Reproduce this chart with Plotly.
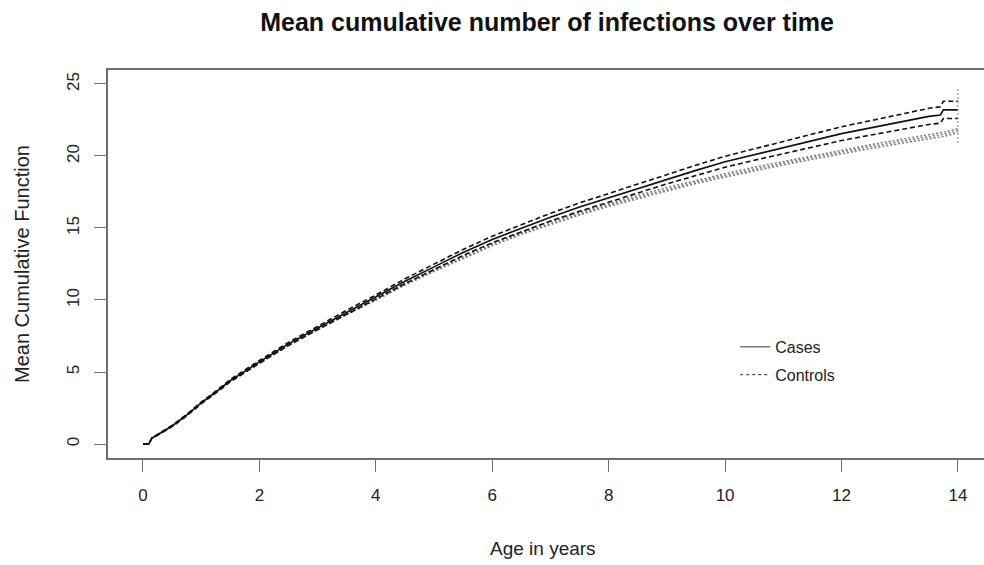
import plotly.graph_objects as go

# ---- data ----
ages = [0, 0.1, 0.15, 0.3, 0.5, 0.75, 1, 1.25, 1.5, 2, 2.5, 3, 3.5, 4, 4.5, 5, 5.5, 6, 6.5, 7,
        7.5, 8, 8.5, 9, 9.5, 10, 10.5, 11, 11.5, 12, 12.5, 13, 13.5, 13.7, 13.75, 14]

cases_mean = [0, 0, 0.4, 0.75, 1.25, 2.0, 2.85, 3.6, 4.4, 5.7, 6.95, 8.05, 9.15, 10.2, 11.3, 12.3,
              13.3, 14.2, 15.0, 15.75, 16.45, 17.1, 17.75, 18.4, 19.0, 19.6, 20.1, 20.6, 21.1, 21.55,
              21.95, 22.35, 22.75, 22.85, 23.2, 23.2]
cases_upper = [0, 0, 0.42, 0.78, 1.29, 2.05, 2.91, 3.67, 4.48, 5.8, 7.06, 8.17, 9.29, 10.35, 11.47,
               12.49, 13.51, 14.43, 15.25, 16.02, 16.74, 17.4, 18.07, 18.74, 19.36, 19.98, 20.5,
               21.03, 21.55, 22.03, 22.45, 22.88, 23.31, 23.42, 23.8, 23.8]
cases_lower = [0, 0, 0.38, 0.72, 1.21, 1.95, 2.79, 3.53, 4.32, 5.6, 6.84, 7.93, 9.01, 10.05, 11.13,
               12.11, 13.09, 13.97, 14.75, 15.48, 16.16, 16.8, 17.43, 18.06, 18.64, 19.22, 19.7,
               20.17, 20.65, 21.07, 21.45, 21.82, 22.19, 22.28, 22.6, 22.6]

controls_mean = [0, 0, 0.4, 0.75, 1.25, 2.0, 2.85, 3.6, 4.38, 5.65, 6.9, 8.0, 9.05, 10.05, 11.1,
                 12.05, 12.95, 13.85, 14.65, 15.35, 16.0, 16.6, 17.15, 17.7, 18.2, 18.65, 19.1,
                 19.5, 19.9, 20.3, 20.65, 21.0, 21.35, 21.45, 21.5, 21.75]
controls_upper = [0, 0, 0.41, 0.77, 1.27, 2.03, 2.88, 3.64, 4.42, 5.7, 6.95, 8.06, 9.11, 10.12,
                  11.17, 12.13, 13.03, 13.94, 14.74, 15.45, 16.1, 16.7, 17.26, 17.81, 18.31, 18.77,
                  19.22, 19.62, 20.03, 20.43, 20.78, 21.14, 21.49, 21.59, 21.65, 21.9]
controls_lower = [0, 0, 0.39, 0.73, 1.23, 1.97, 2.82, 3.56, 4.34, 5.6, 6.85, 7.94, 8.99, 9.98,
                  11.03, 11.97, 12.87, 13.76, 14.56, 15.25, 15.9, 16.5, 17.04, 17.59, 18.09, 18.53,
                  18.98, 19.38, 19.77, 20.17, 20.52, 20.86, 21.21, 21.31, 21.35, 21.6]

end_x = [14, 14]
end_y = [20.9, 24.65]

x_ticks = [0, 2, 4, 6, 8, 10, 12, 14]
y_ticks = [0, 5, 10, 15, 20, 25]

title_text = "Mean cumulative number of infections over time"
x_title = "Age in years"
y_title = "Mean Cumulative Function"
legend_names = ["Cases", "Controls"]

FONT = "Liberation Sans, Arial, Helvetica, sans-serif"
GRAY = "#7a7a7a"

fig = go.Figure()

# controls (gray dotted)
for ys in (controls_lower, controls_upper, controls_mean):
    fig.add_trace(go.Scatter(x=ages, y=ys, mode="lines", showlegend=False, hoverinfo="skip",
                             line=dict(color=GRAY, width=1.5, dash="2px,2px")))
# cases CI (black dashed)
for ys in (cases_lower, cases_upper):
    fig.add_trace(go.Scatter(x=ages, y=ys, mode="lines", showlegend=False, hoverinfo="skip",
                             line=dict(color="#111111", width=1.6, dash="5px,3px")))
# cases mean (black solid)
fig.add_trace(go.Scatter(x=ages, y=cases_mean, mode="lines", showlegend=False, hoverinfo="skip",
                         line=dict(color="#111111", width=1.6)))
# end drop line
fig.add_trace(go.Scatter(x=end_x, y=end_y, mode="lines", showlegend=False, hoverinfo="skip",
                         line=dict(color=GRAY, width=1, dash="2px,2px")))

# legend entries
fig.add_trace(go.Scatter(x=[None], y=[None], mode="lines", name=legend_names[0],
                         legendgroup="a", line=dict(color="#777777", width=1.5)))
fig.add_trace(go.Scatter(x=[None], y=[None], mode="lines", name=legend_names[1],
                         legendgroup="b", line=dict(color="#222222", width=1, dash="3px,3px")))

W, H = 984, 565
L, R, T, B = 108, 0, 70, 107

fig.update_layout(
    width=W, height=H,
    margin=dict(l=L, r=R, t=T, b=B, autoexpand=False),
    paper_bgcolor="white", plot_bgcolor="white",
    font=dict(family=FONT, color="#222222", size=16),
    title=dict(text="<b>" + title_text + "</b>", x=0.556, xanchor="center",
               y=1 - 22 / H, yanchor="middle", font=dict(size=25, color="#111111")),
    showlegend=True,
    legend=dict(x=0.716, y=0.33, xanchor="left", yanchor="top", bgcolor="rgba(0,0,0,0)",
                font=dict(size=16, color="#222222"), tracegroupgap=4, itemwidth=30),
    xaxis=dict(range=[-0.601, 14.448], tickvals=x_ticks, ticktext=[str(v) for v in x_ticks],
               showgrid=False, zeroline=False, showline=True, linecolor="#6e6e6e", linewidth=1.5,
               mirror=True, ticks="outside", ticklen=12, tickcolor="#6e6e6e", tickwidth=1.2,
               tickfont=dict(size=17), ticklabelstandoff=9),
    yaxis=dict(range=[-0.972, 25.97], tickvals=y_ticks, ticktext=[str(v) for v in y_ticks],
               showgrid=False, zeroline=False, showline=True, linecolor="#6e6e6e", linewidth=1.5,
               mirror=False, ticks="outside", ticklen=12, tickcolor="#6e6e6e", tickwidth=1.2,
               tickfont=dict(size=17), tickangle=-90, ticklabelstandoff=8),
    annotations=[
        dict(text=x_title, xref="paper", yref="paper", x=0.497, y=-(548 - 458) / 388,
             xanchor="center", yanchor="middle", showarrow=False, font=dict(size=19)),
        dict(text=y_title, xref="paper", yref="paper", x=-(108 - 22) / 876, y=0.5,
             xanchor="center", yanchor="middle", textangle=-90, showarrow=False,
             font=dict(size=20)),
    ],
)

fig.write_html("out.html")
